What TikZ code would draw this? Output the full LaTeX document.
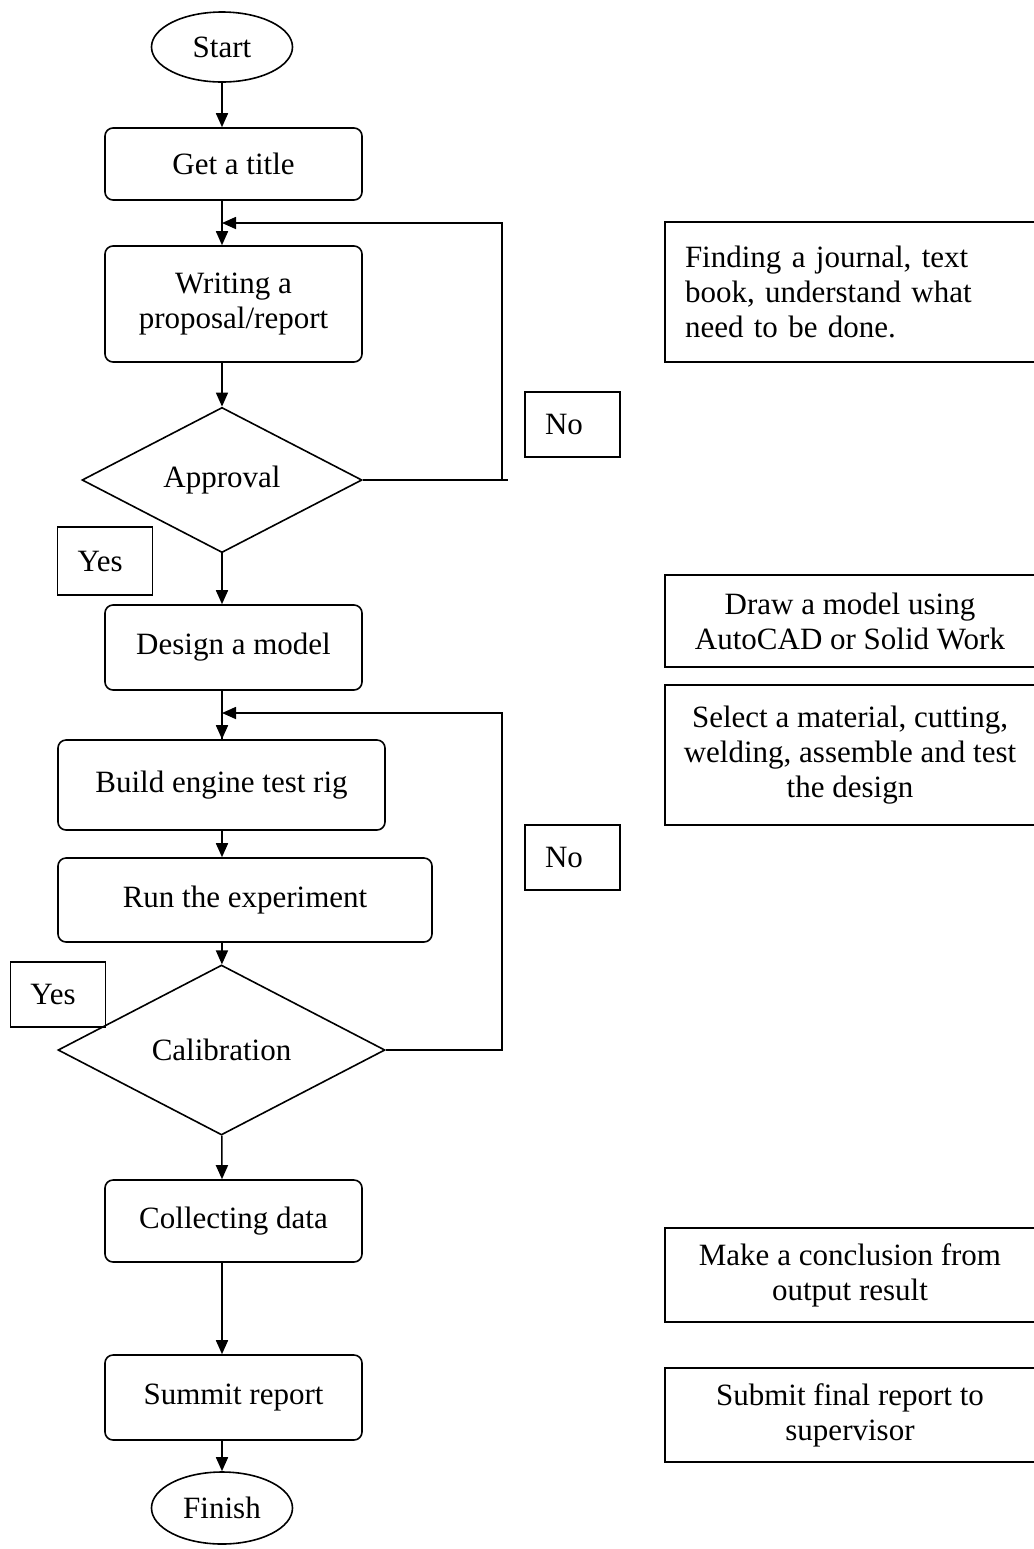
\documentclass[tikz,border=0pt]{standalone}
\usepackage{fontspec}
\setmainfont{Liberation Serif}
\usetikzlibrary{positioning,shapes.geometric,arrows.meta}

\tikzset{
  terminal/.style={draw, ellipse, minimum width=70.5pt, minimum height=35pt, inner sep=0pt},
  process/.style={draw, rounded corners=4pt, minimum width=128.5pt, align=center},
  decision/.style={draw, diamond, inner sep=0pt},
  note/.style={draw, rectangle, minimum width=185pt, align=center},
  tag/.style={draw, rectangle, minimum height=32.5pt, text width=27.5pt, inner xsep=10pt, align=left},
  arrow/.style={-{Triangle[length=7pt,width=6pt]}}
}

\begin{document}
\begin{tikzpicture}[x=0.5pt, y=-0.5pt, line width=0.8pt,
    font=\fontsize{15.5}{17.5}\selectfont]
  \useasboundingbox (0,0) rectangle (1034,1549);
  \clip (0,0) rectangle (1034,1549);

  % main column
  \node (start) [terminal] at (222,47) {Start};
  \node (title) [process, minimum height=36pt] at (233.5,164) {Get a title};
  \node (writing) [process, minimum height=58pt] at (233.5,304) {Writing a\\proposal/report};
  \node (approval) [decision, minimum width=140pt, minimum height=70pt] at (222,480) {Approval};
  \node (design) [process, minimum height=42.5pt] at (233.5,647.5) {Design a model};
  \node (build) [process, minimum width=163.5pt, minimum height=45pt] at (221.5,785) {Build engine test rig};
  \node (run) [process, minimum width=187pt, minimum height=42pt] at (245,900) {Run the experiment};
  \node (calib) [decision, minimum width=163.5pt, minimum height=85pt] at (221.5,1050) {Calibration};
  \node (collect) [process, minimum height=41pt] at (233.5,1221) {Collecting data};
  \node (summit) [process, minimum height=42.5pt] at (233.5,1397.5) {Summit report};
  \node (finish) [terminal, minimum height=36pt] at (222,1508) {Finish};

  % yes / no tags
  \node (no1) [tag] at (572.5,424.5) {No};
  \node (yes1) [tag, minimum height=34pt] at (105,561) {Yes};
  \node (no2) [tag] at (572.5,857.5) {No};
  \node (yes2) [tag] at (58,994.5) {Yes};

  % notes on the right
  \node (finding) [note, align=left, text width=165pt, inner xsep=10pt, minimum height=70pt] at (850,292)
    {Finding a journal, text\\book, understand what\\need to be done.};
  \node (drawing) [note, minimum height=46pt] at (850,621) {Draw a model using\\AutoCAD or Solid Work};
  \node (select) [note, minimum height=70pt] at (850,755)
    {Select a material, cutting,\\welding, assemble and test\\the design};
  \node (conclude) [note, minimum height=47pt] at (850,1275) {Make a conclusion from\\output result};
  \node (submit) [note, minimum height=47pt] at (850,1415) {Submit final report to\\supervisor};

  \coordinate (loopA) at (502,223);
  \coordinate (loopB) at (502,713);

  \draw[arrow] (start) -- (start |- title.north);
  \draw[arrow] (title.south -| start) -- (start |- writing.north);
  \draw[arrow] (writing.south -| start) -- (approval);
  \draw[arrow] (approval) -- (start |- design.north);
  \draw (design.south -| start) -- (start |- build.north);
  \draw[arrow] (start |- build.north) ++(0,-40) -- (start |- build.north);
  \draw[arrow] (build.south -| start) -- (start |- run.north);
  \draw[arrow] (run.south -| start) -- (calib);
  \draw[arrow] (calib) -- (start |- collect.north);
  \draw[arrow] (collect.south -| start) -- (start |- summit.north);
  \draw[arrow] (summit.south -| start) -- (finish);

  % loops back
  \draw (approval.east) -- ++(145,0);
  \draw[arrow] (approval.east -| loopA) -- (loopA) -- (loopA -| start);
  \draw[arrow] (calib.east) -- (calib.east -| loopB) -- (loopB) -- (loopB -| start);

\end{tikzpicture}
\end{document}
